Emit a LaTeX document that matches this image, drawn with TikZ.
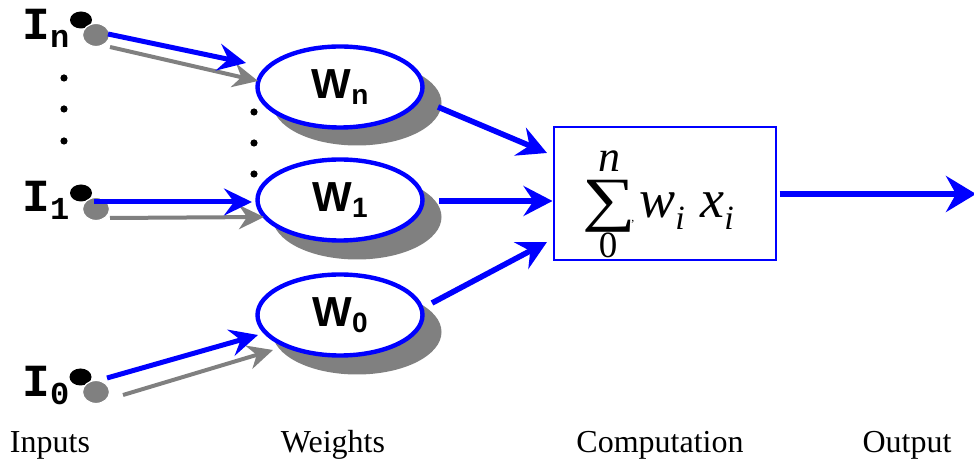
\documentclass[tikz,border=0pt]{standalone}
\usepackage{fontspec}
\setmainfont{Liberation Serif}
\newfontfamily\wfont{Liberation Sans}
\newfontfamily\ifont{Liberation Mono}
\usetikzlibrary{arrows.meta,shapes.geometric}
\definecolor{nnblue}{RGB}{0,0,255}
\definecolor{nngray}{RGB}{128,128,128}
\newcommand{\isub}[1]{\raisebox{-4pt}{\fontsize{16}{16}\selectfont #1}}
\newcommand{\wlab}[1]{{\fontsize{21}{21}\selectfont W}\raisebox{-3pt}{\fontsize{14}{14}\selectfont #1}}
\tikzset{
  wt/.style  ={ellipse, draw=nnblue, line width=2.2pt, fill=white, minimum width=82.5pt, minimum height=40.5pt, inner sep=0pt, font=\wfont\bfseries},
  wsh/.style ={ellipse, fill=nngray, minimum width=84.5pt, minimum height=42.5pt, inner sep=0pt},
  inp/.style ={font=\ifont\bfseries\fontsize{23}{23}\selectfont, inner sep=0pt, anchor=base west},
  bdot/.style={ellipse, fill=black, minimum width=11pt, minimum height=8.5pt, inner sep=0pt},
  gdot/.style={ellipse, fill=nngray, draw=white, line width=0.6pt, minimum width=13.5pt, minimum height=11.5pt, inner sep=0pt},
  captxt/.style ={font=\fontsize{16}{16}\selectfont, inner sep=0pt, anchor=base},
  fml/.style ={inner sep=0pt, anchor=base west},
  barr/.style={draw=nnblue, line width=2.5pt, -{Stealth[length=14pt,width=13.5pt,inset=5pt]}},
  garr/.style={draw=nngray, line width=2pt, -{Stealth[length=12.5pt,width=12pt,inset=4pt]}},
  sarr/.style={draw=nnblue, line width=2.8pt, -{Stealth[length=14.5pt,width=15pt,inset=5pt]}},
  oarr/.style={draw=nnblue, line width=3pt, -{Stealth[length=15pt,width=18pt,inset=5pt]}},
}
\begin{document}
\begin{tikzpicture}[x=0.5pt,y=-0.5pt]
  \useasboundingbox (0,0) rectangle (974,459);
  % inputs
  \node[inp] (in) at (22,40) {I\isub{n}};
  \node[inp] (i1) at (22,212) {I\isub{1}};
  \node[inp] (i0) at (22,397) {I\isub{0}};
  \node[bdot] (bn) at (81,20) {};
  \node[gdot] (gn) at (96,35) {};
  \node[bdot] (b1) at (81,193) {};
  \node[gdot] (g1) at (96,209) {};
  \node[bdot] (b0) at (80.5,377) {};
  \node[gdot] (g0) at (96,392) {};
  \foreach \yy in {78,109,141} \fill (64,\yy) circle (1.8pt);
  \foreach \yy in {112,143,174} \fill (254,\yy) circle (1.8pt);
  % weights
  \node[wsh] (wnsh) at (357,103) {};
  \node[wt] (wn) at (340,87) {\wlab{n}};
  \node[wsh] (w1sh) at (357,217) {};
  \node[wt] (w1) at (340,200) {\wlab{1}};
  \node[wsh] (w0sh) at (357,332) {};
  \node[wt] (w0) at (340,315) {\wlab{0}};
  % arrow ends
  \coordinate (gsn) at (110,47);  \coordinate (gtn) at (258,81);
  \coordinate (gs1) at (110,218); \coordinate (gt1) at (264,217);
  \coordinate (gs0) at (123,395); \coordinate (gt0) at (273,350);
  \coordinate (bsn) at (108,34);  \coordinate (btn) at (246,63);
  \coordinate (bs1) at (94,202);  \coordinate (bt1) at (252,202);
  \coordinate (bs0) at (107,378); \coordinate (bt0) at (258,335);
  \draw[garr] (gsn) -- (gtn);
  \draw[garr] (gs1) -- (gt1);
  \draw[garr] (gs0) -- (gt0);
  \draw[barr] (bsn) -- (btn);
  \draw[barr] (bs1) -- (bt1);
  \draw[barr] (bs0) -- (bt0);
  % computation
  \node[draw=nnblue, line width=1pt, minimum width=111pt, minimum height=66.5pt, inner sep=0pt] (sum) at (664.5,194) {};
  \node[inner sep=0pt, anchor=base, text height=21pt, text depth=1pt, font=\fontsize{30}{30}\selectfont] (sig) at (609,220) {\scalebox{1.25}[1]{∑}};
  \node[inner sep=0pt, anchor=base, font=\fontsize{22}{22}\selectfont\itshape] (up) at (609,172) {n};
  \node[inner sep=0pt, anchor=base, font=\fontsize{18.5}{18.5}\selectfont] (lo) at (608,258) {0};
  \node[fml, font=\fontsize{6}{6}\selectfont] (cm) at (631,222) {,};
  \node[fml, font=\fontsize{27}{27}\selectfont\itshape] (fw) at (639,218) {w\raisebox{-6pt}{\fontsize{17}{17}\selectfont i}};
  \node[fml, font=\fontsize{27}{27}\selectfont\itshape] (fx) at (700,218) {x\raisebox{-6pt}{\fontsize{17}{17}\selectfont i}};
  \coordinate (sn) at (438,107);  \coordinate (tn) at (547,153);
  \coordinate (s1) at (439,201);
  \coordinate (s0) at (432,303);  \coordinate (t0) at (547,242);
  \draw[sarr] (sn) -- (tn);
  \draw[sarr] (s1) -- (sum.west |- s1);
  \draw[sarr] (s0) -- (t0);
  % output
  \coordinate (out) at (976,194);
  \draw[oarr] (sum.east |- out) ++(3,0) -- (out);
  % captions
  \node[captxt] (cin) at (50,452) {Inputs};
  \node[captxt] (cwt) at (333,452) {Weights};
  \node[captxt] (ccp) at (660,452) {Computation};
  \node[captxt] (cout) at (907,452) {Output};
\end{tikzpicture}
\end{document}
